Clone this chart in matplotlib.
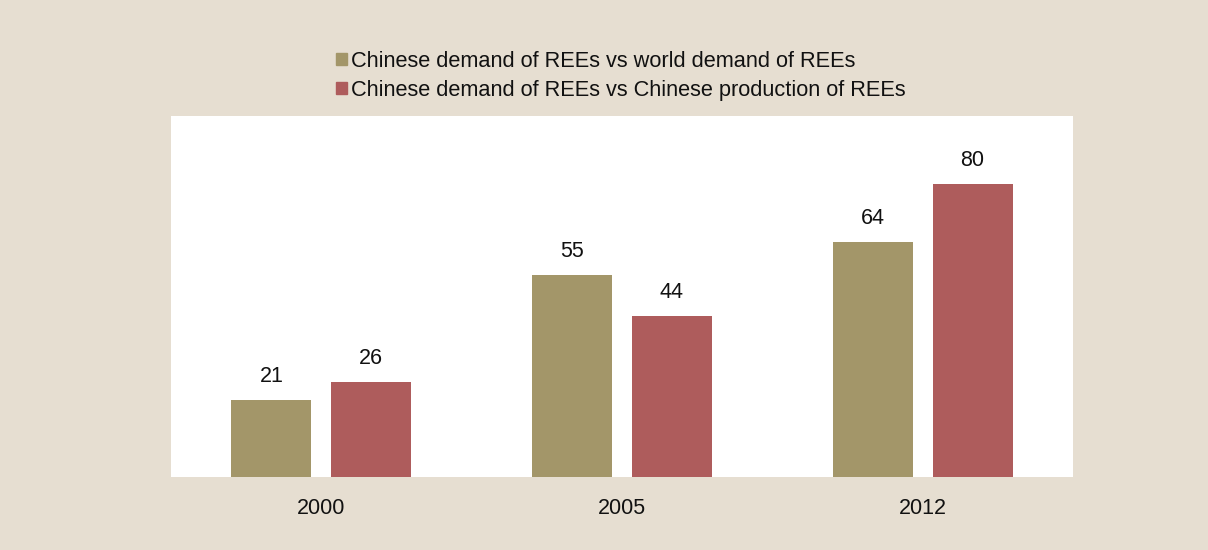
import numpy as np
import matplotlib.pyplot as plt
from matplotlib.patches import Patch

plt.rcParams['font.family'] = ['Liberation Sans', 'DejaVu Sans']
plt.rcParams['text.color'] = '#111111'

years = ['2000', '2005', '2012']
vs_world_demand = [21, 55, 64]
vs_china_production = [26, 44, 80]
series_names = ['Chinese demand of REEs vs world demand of REEs',
                'Chinese demand of REEs vs Chinese production of REEs']

olive = '#a39669'
brick = '#ae5c5c'
bg = '#e6ded1'

fig = plt.figure(figsize=(12.08, 5.5), dpi=100, facecolor=bg)
ax = fig.add_axes([171 / 1208, 73 / 550, 902 / 1208, 361 / 550])
ax.set_facecolor('white')

x = np.arange(len(years))
w = 0.266
off = 0.166
b1 = ax.bar(x - off, vs_world_demand, w, color=olive)
b2 = ax.bar(x + off, vs_china_production, w, color=brick)

for bars, vals in [(b1, vs_world_demand), (b2, vs_china_production)]:
    for r, v in zip(bars, vals):
        ax.annotate(str(v), (r.get_x() + r.get_width() / 2, v),
                    xytext=(0, 9.5), textcoords='offset points',
                    ha='center', va='bottom', fontsize=15.5)

ax.set_xlim(-0.5, 2.5)
ax.set_ylim(0, 98.5)
ax.set_xticks(x)
ax.set_xticklabels(years, fontsize=15.5, color='#111111')
ax.tick_params(axis='x', length=0, pad=15)
ax.set_yticks([])
for s in ax.spines.values():
    s.set_visible(False)

handles = [Patch(color=olive), Patch(color=brick)]
fig.legend(handles, series_names, loc='upper left',
           bbox_to_anchor=(327 / 1208, 1 - 42 / 550), frameon=False,
           fontsize=15.7, handlelength=0.5, handleheight=0.5,
           handletextpad=0.2, labelspacing=0.38, borderaxespad=0)

fig.savefig('out.png', dpi=100, facecolor=bg)
